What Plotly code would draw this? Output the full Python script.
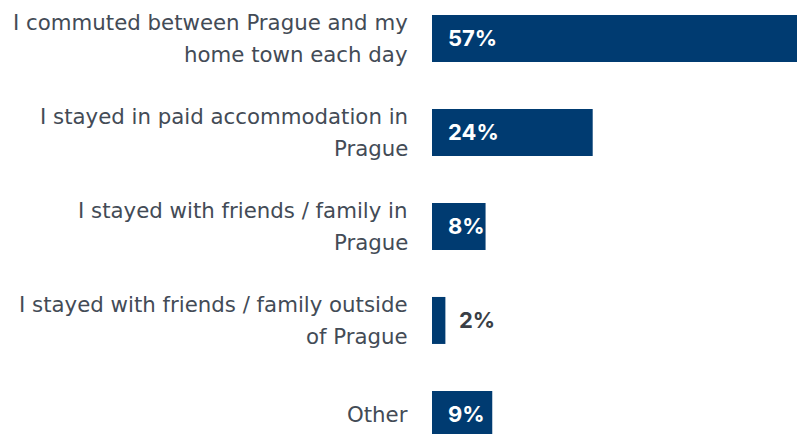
import plotly.graph_objects as go

categories = [
    "I commuted between Prague and my<br>home town each day",
    "I stayed in paid accommodation in<br>Prague",
    "I stayed with friends / family in<br>Prague",
    "I stayed with friends / family outside<br>of Prague",
    "Other",
]
values = [57, 24, 8, 2, 9]
value_labels = ["57%", "24%", "8%", "2%", "9%"]

BAR = "#003B71"
TXT = "#434B56"
LABEL_FONT = "DejaVu Sans"
VALUE_FONT = "Inter"

pos = list(range(len(categories)))

fig = go.Figure()
fig.add_trace(go.Bar(
    x=values, y=pos, orientation="h", width=0.5,
    marker=dict(color=BAR, line=dict(width=0)),
    hoverinfo="skip",
))

annotations = []
for i, (cat, v, lab) in enumerate(zip(categories, values, value_labels)):
    lines = cat.split("<br>")
    n = len(lines)
    for j, line in enumerate(lines):
        shift = (n - 1) / 2 * 32 - j * 32
        annotations.append(dict(
            text=line, xref="paper", x=0, yref="y", y=i,
            xanchor="right", yanchor="middle", xshift=-22, yshift=shift,
            showarrow=False, font=dict(family=LABEL_FONT, size=21.3, color=TXT),
        ))
    inside = v >= 5
    annotations.append(dict(
        text="<b>%s</b>" % lab, xref="x", x=0 if inside else v, yref="y", y=i,
        xanchor="left", yanchor="middle", xshift=14 if inside else 12,
        showarrow=False,
        font=dict(family=VALUE_FONT, size=22, color="white" if inside else "#3A3F46"),
    ))

fig.update_layout(
    width=805, height=434,
    margin=dict(l=424, r=0, t=0, b=0),
    paper_bgcolor="white", plot_bgcolor="white",
    showlegend=False,
    xaxis=dict(range=[0, 56.9], visible=False, fixedrange=True),
    yaxis=dict(range=[4.293, -0.324], visible=False, fixedrange=True),
    annotations=annotations,
)

fig.write_html("out.html")
